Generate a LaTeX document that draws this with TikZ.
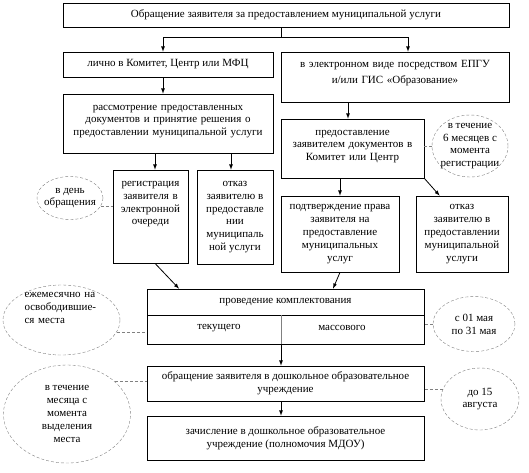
\documentclass[tikz,border=0pt]{standalone}
\usepackage{fontspec}
\setmainfont{Liberation Serif}
\usetikzlibrary{shapes.geometric}
\begin{document}
\begin{tikzpicture}[x=1pt, y=-1pt, >=latex]
        \tikzstyle{every node}=[font=\fontsize{11}{12.8}\selectfont]
        \tikzstyle{box}=[draw, line width=0.7pt, align=center, inner sep=2pt]
        \tikzstyle{oval}=[draw=gray, densely dashed, thin, ellipse, inner sep=0pt]
        \tikzstyle{lbl}=[align=center, inner sep=0pt]
        \tikzstyle{arr}=[->, line width=0.8pt]
        \tikzstyle{link}=[draw=gray, densely dashed, thin]

        \useasboundingbox (0,0) rectangle (529,472);

        % boxes
        \node (zayav)   [box, minimum width=446pt, minimum height=24pt] at (286,15) {Обращение заявителя за предоставлением муниципальной услуги};
        \node (lichno)  [box, minimum width=210pt, minimum height=25pt] at (168,64.5) {лично в Комитет, Центр или МФЦ};
        \node (elektr)  [box, text width=224pt, text height=13pt, text depth=33pt] at (395,77) {в электронном виде посредством ЕПГУ\\[4pt] и/или ГИС «Образование»};
        \node (rassm)   [box, text width=206pt, text height=14pt, text depth=41pt] at (168,123.5) {рассмотрение предоставленных\\документов и принятие решения о\\предоставлении муниципальной услуги};
        \node (predost) [box, text width=139pt, text height=14pt, text depth=41pt] at (352.5,148.5) {предоставление\\заявителем документов в\\Комитет или Центр};
        \node (reg)     [box, text width=71pt, text height=14.5pt, text depth=74.5pt] at (150.5,216.5) {регистрация\\заявителя в\\электронной\\очереди};
        \node (otkaz1)  [box, minimum width=76pt, minimum height=94pt] at (235,217) {отказ\\заявителю в\\предоставле\\нии\\муниципаль\\ной услуги};
        \node (podtv)   [box, minimum width=118pt, minimum height=76pt] at (340,234) {подтверждение права\\заявителя на\\предоставление\\муниципальных\\услуг};
        \node (otkaz2)  [box, minimum width=92pt, minimum height=76pt] at (462,234) {отказ\\заявителю в\\предоставлении\\муниципальной\\услуги};
        \node (kompl)   [box, minimum width=277pt, minimum height=26pt] at (285.5,302) {проведение комплектования};
        \node (vid)     [box, minimum width=277pt, minimum height=29pt] at (285.5,329.5) {};
        \node (tek) at (219,328) {текущего};
        \node (mas) at (342,328) {массового};
        \node (obr)     [box, minimum width=277pt, minimum height=35pt] at (285.5,383.5) {обращение заявителя в дошкольное образовательное\\учреждение};
        \node (zach)    [box, minimum width=277pt, minimum height=44pt] at (285.5,438) {зачисление в дошкольное образовательное\\учреждение (полномочия МДОУ)};

        % terms
        \node (srok)  [oval, minimum width=76pt, minimum height=62pt, label={[lbl]center:{в течение\\6 месяцев с\\момента\\регистрации}}] at (470,146) {};
        \node (den)   [oval, minimum width=66pt, minimum height=43pt, label={[lbl]center:{в день\\обращения}}] at (70,198) {};
        \node (mes)   [oval, minimum width=117pt, minimum height=70pt, label={[lbl, align=left, text width=74pt, yshift=12pt]center:{ежемесячно на\\освободившие-\\ся места}}] at (61.5,320) {};
        \node (mai)   [oval, minimum width=82pt, minimum height=55pt, label={[lbl]center:{с 01 мая\\по 31 мая}}] at (474,324) {};
        \node (mesto) [oval, minimum width=127pt, minimum height=98pt, label={[lbl]center:{в течение\\месяца с\\момента\\выделения\\места}}] at (67,414) {};
        \node (avg)   [oval, minimum width=78pt, minimum height=62pt, label={[lbl]center:{до 15\\августа}}] at (480,399) {};

        \draw[link] (srok.west) -- (srok.west -| predost.east);
        \draw[link] (den.-15) -- (den.-15 -| reg.west);
        \draw[link] (mes.-12) -- (mes.-12 -| vid.west);
        \draw[link] (mai.west) -- (mai.west -| vid.east);
        \draw[link] (mesto.34) -- (mesto.34 -| obr.west);
        \draw[link] (avg.166) -- (avg.166 -| obr.east);

        % arrows
        \draw[line width=0.8pt] ([xshift=-5pt]zayav.south) -- ++(0,10) coordinate (razv);
        \draw[arr] (razv) -| ([xshift=-5pt]lichno.north);
        \draw[arr] (razv) -| ([xshift=13pt]elektr.north);
        \draw[arr] ([xshift=-5pt]lichno.south) -- ([xshift=-5pt]rassm.north);
        \draw[arr] ([xshift=-4.5pt]predost.north |- elektr.south) -- ([xshift=-4.5pt]predost.north);
        \draw[arr] ([xshift=4.5pt]reg.north |- rassm.south) -- ([xshift=4.5pt]reg.north);
        \draw[arr] ([xshift=-4pt]otkaz1.north |- rassm.south) -- ([xshift=-4pt]otkaz1.north);
        \draw[arr] (predost.south -| podtv.north) -- (podtv.north);
        \draw[arr] (predost.south east) -- ([xshift=24pt]otkaz2.north west);
        \draw[arr] ([xshift=4.5pt]reg.south) -- ([xshift=-106.5pt]kompl.north);
        \draw[arr] (podtv.south) -- ([xshift=47.5pt]kompl.north);
        \draw[gray] ([xshift=-4.5pt]kompl.south) -- ([xshift=-4.5pt]vid.south);
        \draw[arr] ([xshift=-4.5pt]vid.south) -- ([xshift=-4.5pt]obr.north);
        \draw[arr] ([xshift=-4.5pt]obr.south) -- ([xshift=-4.5pt]zach.north);

\end{tikzpicture}
\end{document}
